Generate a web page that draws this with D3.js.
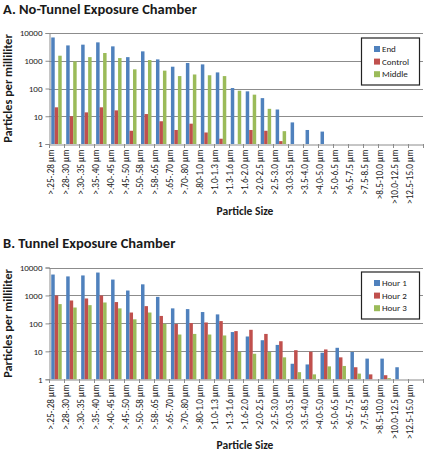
<!DOCTYPE html>
<html><head><meta charset="utf-8">
<script src="https://cdn.jsdelivr.net/npm/d3@7"></script>
<style>body{margin:0;background:#fff}svg{display:block;font-family:Carlito,Lato,"Liberation Sans",sans-serif}</style>
</head><body><svg id="c" width="427" height="453"></svg>
<script>
const categories = [">.25-.28 µm",">.28-.30 µm",">.30-.35 µm",">.35-.40 µm",">.40-.45 µm",">.45-.50 µm",">.50-.58 µm",">.58-.65 µm",">.65-.70 µm",">.70-.80 µm",">.80-1.0 µm",">1.0-1.3 µm",">1.3-1.6 µm",">1.6-2.0 µm",">2.0-2.5 µm",">2.5-3.0 µm",">3.0-3.5 µm",">3.5-4.0 µm",">4.0-5.0 µm",">5.0-6.5 µm",">6.5-7.5 µm",">7.5-8.5 µm",">8.5-10.0 µm",">10.0-12.5 µm",">12.5-15.0 µm"];
const yTicks = [1,10,100,1000,10000];
// Panel A: No-Tunnel
const endVals = [6900,3570,3800,4600,3300,1350,2180,1120,610,830,740,380,104,79,45,17.5,6.0,3.2,2.8,null,null,null,null,null,null];
const controlVals = [21,10,13.8,21,16.3,3.0,12,6.6,3.2,5.4,2.6,1.55,null,3.2,3.0,1.27,null,null,null,null,null,null,null,null,null];
const middleVals = [1520,950,1350,1900,1250,490,1060,440,280,320,300,280,83,60,18.5,2.9,null,null,null,null,null,null,null,null,null];
// Panel B: Tunnel
const hour1Vals = [5600,4800,5200,6600,3700,1500,2500,890,345,325,255,210,49,34,25,17,3.6,3.4,8.9,13.4,9.5,5.5,5.5,2.7,null];
const hour2Vals = [1000,660,780,1000,580,245,415,185,95,103,108,121,53,59,42,23,11,9.7,11.7,6.1,2.7,1.5,1.4,null,null];
const hour3Vals = [490,370,450,560,345,140,245,97,40,42,40,37,9.6,8.2,9.5,6.1,1.8,1.5,2.9,3.0,1.6,null,1.1,null,null];
const seriesA = [{name:"End",values:endVals},{name:"Control",values:controlVals},{name:"Middle",values:middleVals}];
const seriesB = [{name:"Hour 1",values:hour1Vals},{name:"Hour 2",values:hour2Vals},{name:"Hour 3",values:hour3Vals}];
const colors = ["#4F81BD","#C0504D","#9BBB59"];

const svg = d3.select("#c");
const X0=49, X1=423;

function panel(title, titleY, top, bottom, series, xTitleY, legendTop){
  const g = svg.append("g");
  g.append("text").attr("x",3).attr("y",titleY).attr("font-size",14.5).attr("font-weight","bold").attr("fill","#1a1a1a").text(title);
  const y = d3.scaleLog().domain([1,10000]).range([bottom,top]);
  const x = d3.scaleBand().domain(categories).range([X0,X1]).paddingInner(0.3).paddingOuter(0.15);
  const xs = d3.scaleBand().domain(series.map(s=>s.name)).range([0,x.bandwidth()]);
  // gridlines
  g.append("g").selectAll("line").data(yTicks.slice(1)).join("line")
    .attr("x1",X0).attr("x2",X1).attr("y1",d=>Math.round(y(d))+0.5).attr("y2",d=>Math.round(y(d))+0.5)
    .attr("stroke","#8c8c8c").attr("stroke-width",1);
  // bars
  series.forEach((s,si)=>{
    g.append("g").selectAll("rect").data(s.values.map((v,i)=>({v,c:categories[i]})).filter(d=>d.v!=null && d.v>1))
      .join("rect")
      .attr("x",d=>x(d.c)+xs(s.name)).attr("width",xs.bandwidth())
      .attr("y",d=>y(d.v)).attr("height",d=>y(1)-y(d.v))
      .attr("fill",colors[si]);
  });
  // y axis
  const ya = d3.axisLeft(y).tickValues(yTicks).tickFormat(d3.format("d")).tickSize(4).tickPadding(3);
  const yg = g.append("g").attr("transform",`translate(${X0+0.5},0)`).call(ya);
  yg.selectAll("path,line").attr("stroke","#8c8c8c");
  yg.selectAll("text").attr("font-size",9).attr("fill","#222").style("font-family","Carlito,Lato,sans-serif");
  // x axis
  const xa = d3.axisBottom(x).tickSize(0).tickPadding(4);
  const xg = g.append("g").attr("transform",`translate(0,${Math.round(bottom)+0.5})`).call(xa);
  xg.select("path").attr("stroke","#8c8c8c");
  xg.selectAll("text").attr("font-size",9.2).attr("fill","#222").style("font-family","Carlito,Lato,sans-serif")
    .attr("transform","rotate(-90)").attr("text-anchor","end").attr("dx","-5").attr("dy","-0.3em").attr("x",0).attr("y",0);
  // category boundary ticks
  const step = x.step();
  g.append("g").selectAll("line").data(d3.range(categories.length+1)).join("line")
    .attr("x1",d=>Math.round(X0+d*step)+0.5).attr("x2",d=>Math.round(X0+d*step)+0.5)
    .attr("y1",Math.round(bottom)).attr("y2",Math.round(bottom)+4).attr("stroke","#8c8c8c");
  // y title
  g.append("text").attr("transform",`translate(12,${(top+bottom)/2}) rotate(-90)`).attr("text-anchor","middle")
    .attr("font-size",12.3).attr("font-weight","bold").attr("fill","#1a1a1a").text("Particles per milliliter");
  g.append("text").attr("x",245).attr("y",xTitleY).attr("text-anchor","middle").attr("font-size",11.5).attr("font-weight","bold").attr("fill","#1a1a1a").text("Particle Size");
  // legend
  const lg = g.append("g");
  lg.append("rect").attr("x",361.5).attr("y",legendTop+0.5).attr("width",58).attr("height",47).attr("fill","#fff").attr("stroke","#222").attr("stroke-width",1.2);
  series.forEach((s,si)=>{
    const cy = legendTop+11.5+si*12.6;
    lg.append("rect").attr("x",374).attr("y",cy-3).attr("width",6).attr("height",6).attr("fill",colors[si]);
    lg.append("text").attr("x",382).attr("y",cy+3.2).attr("font-size",9).attr("fill","#222").text(s.name);
  });
}
panel("A. No-Tunnel Exposure Chamber", 14, 33, 144, seriesA, 215, 37.5);
panel("B. Tunnel Exposure Chamber", 248, 267.5, 379.3, seriesB, 449, 271.5);
</script></body></html>
